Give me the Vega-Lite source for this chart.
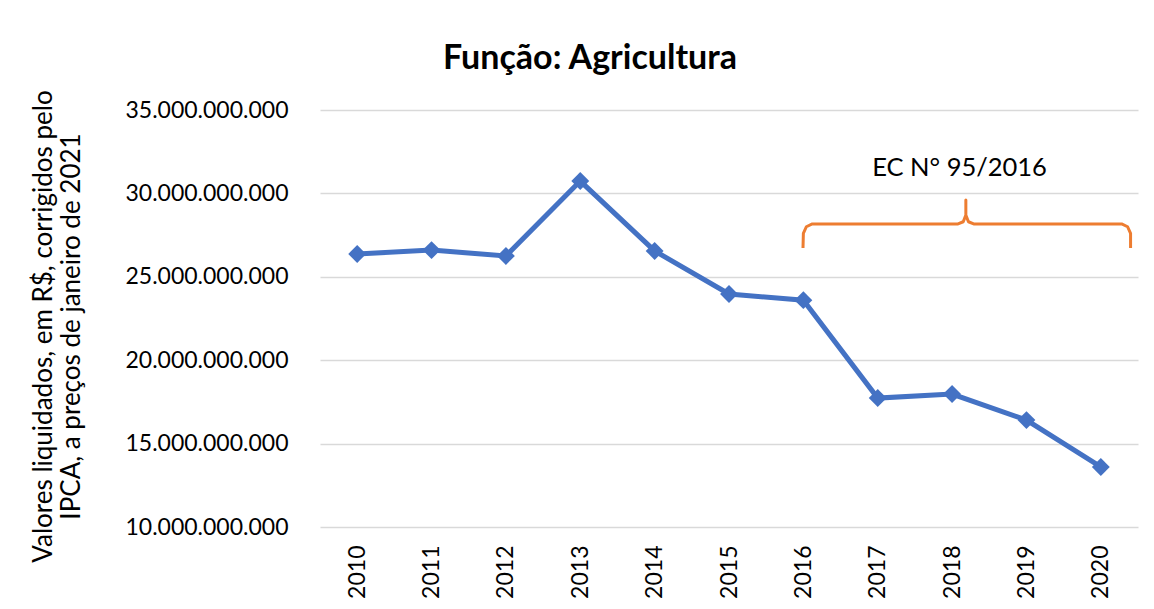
{
  "$schema": "https://vega.github.io/schema/vega-lite/v6.json",
  "autosize": {"type": "none"},
  "width": 818,
  "height": 417,
  "padding": {"left": 320, "top": 110, "right": 16, "bottom": 82},
  "background": "white",
  "title": {
    "text": "Função: Agricultura",
    "font": "Lato",
    "fontSize": 34,
    "fontWeight": "bold",
    "color": "#000000",
    "anchor": "middle",
    "frame": "group",
    "dx": -139,
    "offset": 14
  },
  "datasets": {
    "series": [
      {"ano": 2010, "valor": 26370000000},
      {"ano": 2011, "valor": 26600000000},
      {"ano": 2012, "valor": 26250000000},
      {"ano": 2013, "valor": 30740000000},
      {"ano": 2014, "valor": 26550000000},
      {"ano": 2015, "valor": 23970000000},
      {"ano": 2016, "valor": 23600000000},
      {"ano": 2017, "valor": 17730000000},
      {"ano": 2018, "valor": 17970000000},
      {"ano": 2019, "valor": 16410000000},
      {"ano": 2020, "valor": 13600000000}
    ],
    "brace": [
      {"i": 1, "x": 2015.995, "y": 26730000000},
      {"i": 2, "x": 2016.0, "y": 27600000000},
      {"i": 3, "x": 2016.04, "y": 28000000000},
      {"i": 4, "x": 2016.12, "y": 28170000000},
      {"i": 5, "x": 2018.08, "y": 28170000000},
      {"i": 6, "x": 2018.15, "y": 28300000000},
      {"i": 7, "x": 2018.185, "y": 28700000000},
      {"i": 8, "x": 2018.185, "y": 29600000000},
      {"i": 9, "x": 2018.185, "y": 28700000000},
      {"i": 10, "x": 2018.22, "y": 28300000000},
      {"i": 11, "x": 2018.29, "y": 28170000000},
      {"i": 12, "x": 2020.28, "y": 28170000000},
      {"i": 13, "x": 2020.36, "y": 28000000000},
      {"i": 14, "x": 2020.40, "y": 27600000000},
      {"i": 15, "x": 2020.40, "y": 26730000000}
    ],
    "label": [
      {"x": 2018.1, "y": 31520000000, "texto": "EC N° 95/2016"}
    ]
  },
  "layer": [
    {
      "data": {"name": "series"},
      "mark": {"type": "line", "color": "#4472C4", "strokeWidth": 5, "clip": false},
      "encoding": {
        "x": {
          "field": "ano",
          "type": "quantitative",
          "scale": {"domain": [2009.5, 2020.5], "nice": false, "zero": false},
          "axis": {
            "title": null,
            "values": [2010, 2011, 2012, 2013, 2014, 2015, 2016, 2017, 2018, 2019, 2020],
            "format": "d",
            "labelAngle": -90,
            "labelAlign": "right",
            "labelBaseline": "middle",
            "labelPadding": 18,
            "labelFont": "Lato",
            "labelFontSize": 23,
            "labelColor": "#000000",
            "ticks": false,
            "domain": false,
            "grid": false
          }
        },
        "y": {
          "field": "valor",
          "type": "quantitative",
          "scale": {"domain": [10000000000, 35000000000], "nice": false, "zero": false},
          "axis": {
            "title": ["Valores liquidados, em R$, corrigidos pelo", "IPCA, a preços de janeiro de 2021"],
            "titleFont": "Lato",
            "titleFontSize": 26,
            "titleFontWeight": "normal",
            "titleColor": "#000000",
            "titlePadding": 40,
            "titleLineHeight": 28,
            "titleY": 216,
            "values": [10000000000, 15000000000, 20000000000, 25000000000, 30000000000, 35000000000],
            "format": ",.0f",
            "labelFont": "Lato",
            "labelFontSize": 23,
            "labelColor": "#000000",
            "labelPadding": 32,
            "ticks": false,
            "domain": false,
            "grid": true,
            "gridColor": "#d9d9d9",
            "gridWidth": 1.5
          }
        }
      }
    },
    {
      "data": {"name": "series"},
      "mark": {"type": "point", "shape": "diamond", "filled": true, "color": "#4472C4", "size": 320, "opacity": 1},
      "encoding": {
        "x": {"field": "ano", "type": "quantitative"},
        "y": {"field": "valor", "type": "quantitative"}
      }
    },
    {
      "data": {"name": "brace"},
      "mark": {"type": "line", "color": "#ED7D31", "strokeWidth": 3, "strokeJoin": "round", "clip": false},
      "encoding": {
        "x": {"field": "x", "type": "quantitative"},
        "y": {"field": "y", "type": "quantitative"},
        "order": {"field": "i", "type": "quantitative"}
      }
    },
    {
      "data": {"name": "label"},
      "mark": {"type": "text", "font": "Lato", "fontSize": 25.5, "color": "#000000", "baseline": "middle", "align": "center"},
      "encoding": {
        "x": {"field": "x", "type": "quantitative"},
        "y": {"field": "y", "type": "quantitative"},
        "text": {"field": "texto"}
      }
    }
  ],
  "config": {
    "view": {"stroke": null},
    "locale": {"number": {"decimal": ",", "thousands": ".", "grouping": [3], "currency": ["R$ ", ""]}}
  }
}
